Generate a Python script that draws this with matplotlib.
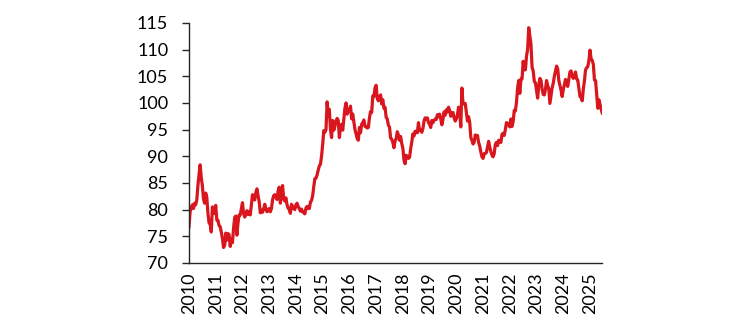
import matplotlib.pyplot as plt
import numpy as np

# half-monthly readings of the index, one list per year
v2010 = [76.8, 79.6, 80.3, 80.9, 80.2, 81.2, 80.9, 81.8, 84.5, 86.6, 88.4, 86.0,
         84.5, 82.0, 81.2, 83.1, 82.3, 79.3, 77.5, 77.3, 75.8, 80.5, 80.0, 79.3]
v2011 = [80.8, 78.0, 78.0, 77.0, 76.8, 75.8, 74.6, 72.9, 73.3, 75.6, 74.3, 75.5,
         75.3, 73.1, 74.5, 73.8, 76.5, 78.5, 78.8, 75.2, 77.5, 79.0, 79.0, 80.2]
v2012 = [81.3, 79.3, 78.6, 79.1, 79.8, 79.1, 79.6, 79.0, 81.0, 82.8, 82.1, 81.8,
         83.2, 83.9, 82.6, 81.5, 79.4, 79.9, 79.5, 80.1, 81.0, 80.2, 79.6, 79.8]
v2013 = [80.2, 79.6, 80.2, 81.8, 82.6, 82.8, 82.4, 81.9, 83.5, 84.2, 81.2, 82.9,
         84.5, 82.0, 81.6, 82.2, 80.9, 80.3, 80.0, 79.3, 81.0, 80.6, 80.2, 80.0]
v2014 = [80.9, 81.2, 80.6, 80.2, 79.7, 80.1, 79.6, 79.4, 79.2, 80.3, 80.6, 80.2,
         80.2, 81.4, 81.7, 82.6, 84.3, 85.8, 85.9, 86.5, 87.4, 88.2, 88.5, 90.0]
v2015 = [92.2, 94.8, 94.5, 95.0, 100.2, 97.6, 98.8, 95.0, 93.5, 96.7, 94.9, 95.6,
         96.6, 97.1, 96.7, 93.5, 95.5, 96.0, 94.9, 96.9, 99.0, 100.0, 97.9, 98.5]
v2016 = [98.8, 99.4, 97.0, 97.9, 96.5, 95.0, 94.2, 93.3, 93.0, 95.4, 94.4, 96.0,
         96.3, 96.8, 95.6, 95.5, 95.3, 95.4, 97.2, 98.4, 98.2, 101.3, 101.2, 102.8]
v2017 = [103.3, 100.8, 100.4, 101.0, 101.5, 99.8, 100.6, 99.0, 99.2, 97.3, 97.0, 95.8,
         95.5, 93.4, 93.2, 92.6, 91.6, 92.9, 93.3, 94.6, 94.0, 93.0, 93.7, 92.4]
v2018 = [91.5, 89.3, 88.6, 90.2, 89.9, 89.6, 89.8, 91.4, 92.7, 94.2, 93.8, 94.7,
         94.5, 94.4, 96.3, 94.8, 95.0, 94.5, 95.2, 96.6, 97.2, 97.0, 97.2, 96.3]
v2019 = [96.0, 95.4, 96.7, 96.3, 96.7, 97.0, 96.9, 97.8, 97.4, 97.9, 97.0, 95.9,
         96.9, 98.3, 97.7, 98.7, 98.3, 99.2, 98.6, 97.5, 98.1, 98.2, 97.2, 96.6]
v2020 = [97.0, 97.8, 99.2, 98.3, 95.5, 102.8, 99.8, 99.9, 99.9, 98.3, 96.6, 97.4,
         96.4, 93.5, 93.0, 92.3, 92.6, 94.0, 93.5, 93.9, 92.6, 91.9, 90.8, 89.9]
v2021 = [89.6, 90.5, 90.5, 90.7, 91.8, 92.8, 91.7, 90.9, 90.2, 89.9, 90.5, 92.2,
         92.6, 92.0, 93.0, 92.7, 92.6, 94.1, 94.3, 93.9, 95.0, 96.3, 96.2, 95.9]
v2022 = [95.5, 97.0, 95.6, 96.5, 98.6, 98.5, 100.1, 102.8, 104.2, 101.8, 104.5, 104.5,
         107.8, 106.2, 106.2, 108.8, 110.0, 114.1, 112.6, 111.0, 106.7, 106.0, 104.0, 103.8]
v2023 = [102.3, 100.9, 103.3, 104.6, 104.2, 102.6, 101.6, 101.5, 102.5, 104.2, 103.2, 102.7,
         99.9, 101.4, 102.8, 103.7, 105.0, 106.0, 106.9, 106.4, 104.2, 103.3, 102.4, 101.2]
v2024 = [102.5, 103.4, 104.4, 104.0, 103.1, 104.4, 105.8, 106.0, 105.0, 104.6, 105.0, 105.8,
         104.5, 104.3, 102.8, 101.2, 101.1, 100.4, 102.6, 104.1, 106.2, 106.6, 106.8, 107.9]
v2025 = [109.9, 108.2, 108.0, 107.2, 104.3, 104.2, 101.5, 99.0, 100.6, 99.7, 98.8, 98.1]

year_ticks = list(range(2010, 2026))
y_ticks = [70, 75, 80, 85, 90, 95, 100, 105, 110, 115]

values = np.array(v2010 + v2011 + v2012 + v2013 + v2014 + v2015 + v2016 + v2017
                  + v2018 + v2019 + v2020 + v2021 + v2022 + v2023 + v2024 + v2025)
t = 2010 + np.arange(len(values)) / 24

plt.rcParams['font.family'] = ['Lato', 'DejaVu Sans']

fig = plt.figure(figsize=(7.5, 3.32), dpi=100)
ax = fig.add_axes([0.252, 0.208, 0.551, 0.723])

ax.plot(t, values, color='#D9151E', linewidth=2.3, solid_joinstyle='round')

ax.set_xlim(2010, t[-1])
ax.set_ylim(70, 115)
ax.set_yticks(y_ticks)
ax.set_xticks(year_ticks)
ax.set_xticklabels([str(y) for y in year_ticks], rotation=90)

ax.spines['top'].set_visible(False)
ax.spines['right'].set_visible(False)
for side in ('left', 'bottom'):
    ax.spines[side].set_color('#262626')
    ax.spines[side].set_linewidth(1.0)

ax.tick_params(axis='y', direction='out', length=5, width=1.0, color='#262626',
               pad=10, labelsize=13)
ax.tick_params(axis='x', length=0, pad=7, labelsize=13)

fig.savefig('out.png', dpi=100)
